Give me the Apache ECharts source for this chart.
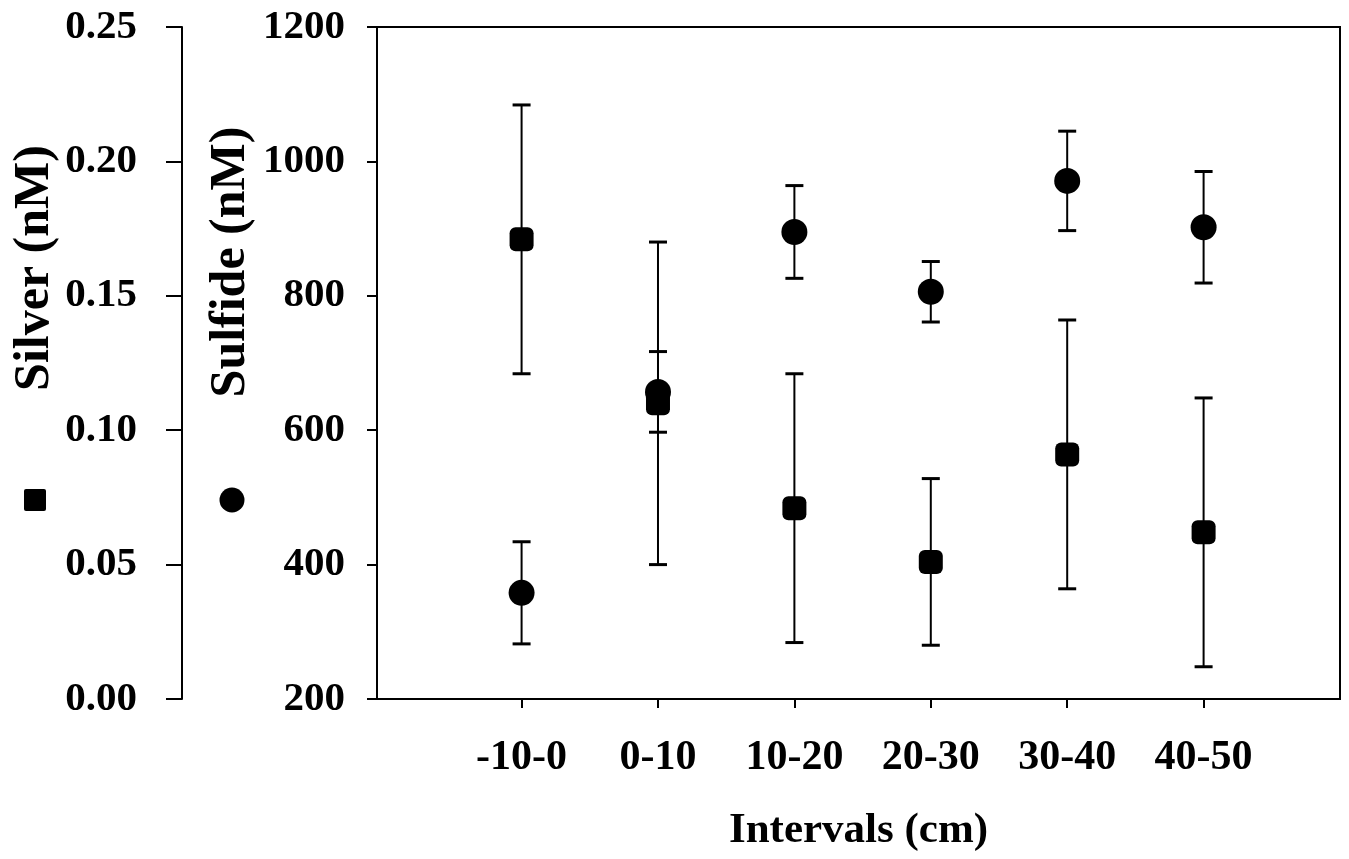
<!DOCTYPE html>
<html>
<head>
<meta charset="utf-8">
<script src="https://cdn.jsdelivr.net/npm/echarts@6/dist/echarts.min.js"></script>
<style>
html, body { margin: 0; padding: 0; background: #fff; }
#chart { width: 1349px; height: 859px; }
</style>
</head>
<body>
<div id="chart"></div>
<script>
// depth intervals and the two measured series (mean and error)
const intervals = ['-10-0', '0-10', '10-20', '20-30', '30-40', '40-50'];
const silver = [0.171, 0.110, 0.071, 0.051, 0.091, 0.062];
const silverErr = [0.050, 0.060, 0.050, 0.031, 0.050, 0.050];
const sulfide = [358, 657, 895, 806, 971, 902];
const sulfideErr = [76, 60, 69, 45, 74, 83];
const xTicks = [0, 1, 2, 3, 4, 5];

const FONT = 'Liberation Serif';
const chart = echarts.init(document.getElementById('chart'));

function errorBar(params, api) {
    const x = api.value(0);
    const top = api.coord([x, api.value(2)]);
    const bot = api.coord([x, api.value(1)]);
    const cap = 9;
    const line = { stroke: '#000', lineWidth: 2 };
    const capStyle = { stroke: '#000', lineWidth: 3 };
    return {
        type: 'group',
        children: [
            { type: 'line', shape: { x1: top[0], y1: top[1], x2: bot[0], y2: bot[1] }, style: line },
            { type: 'line', shape: { x1: top[0] - cap, y1: top[1], x2: top[0] + cap, y2: top[1] }, style: capStyle },
            { type: 'line', shape: { x1: bot[0] - cap, y1: bot[1], x2: bot[0] + cap, y2: bot[1] }, style: capStyle }
        ]
    };
}

const axisLabelStyle = { color: '#000', fontFamily: FONT, fontWeight: 'bold', fontSize: 41 };
const axisLineStyle = { show: true, onZero: false, lineStyle: { color: '#000', width: 2 } };

chart.setOption({
    animation: false,
    backgroundColor: '#fff',
    grid: {
        left: 377, right: 9, top: 27, bottom: 160,
        show: true, borderColor: '#000', borderWidth: 2
    },
    xAxis: {
        type: 'value',
        min: -1.06,
        max: 6,
        name: 'Intervals (cm)',
        nameLocation: 'middle',
        nameGap: 110,
        nameTextStyle: { color: '#000', fontFamily: FONT, fontWeight: 'bold', fontSize: 43 },
        axisLine: axisLineStyle,
        axisTick: { show: true, customValues: xTicks, length: 9, lineStyle: { color: '#000', width: 2 } },
        axisLabel: Object.assign({
            customValues: xTicks,
            margin: 38,
            fontSize: 42,
            formatter: v => intervals[Math.round(v)]
        }, { color: '#000', fontFamily: FONT, fontWeight: 'bold' }),
        splitLine: { show: false }
    },
    yAxis: [
        {
            type: 'value',
            min: 200, max: 1200, interval: 200,
            position: 'left',
            axisLine: axisLineStyle,
            axisTick: { show: true, length: 10, lineStyle: { color: '#000', width: 2 } },
            axisLabel: Object.assign({ margin: 32, formatter: v => String(v) }, axisLabelStyle),
            splitLine: { show: false }
        },
        {
            type: 'value',
            min: 0, max: 0.25, interval: 0.05,
            position: 'left',
            offset: 195,
            axisLine: axisLineStyle,
            axisTick: { show: true, length: 16, lineStyle: { color: '#000', width: 2 } },
            axisLabel: Object.assign({ margin: 45, formatter: v => v.toFixed(2) }, axisLabelStyle),
            splitLine: { show: false }
        }
    ],
    graphic: [
        {
            type: 'text', x: 35, y: 268, rotation: Math.PI / 2,
            style: { text: 'Silver (nM)', font: 'bold 50px "Liberation Serif"', fill: '#000', textAlign: 'center', textVerticalAlign: 'middle' }
        },
        {
            type: 'text', x: 231, y: 262, rotation: Math.PI / 2,
            style: { text: 'Sulfide (nM)', font: 'bold 50px "Liberation Serif"', fill: '#000', textAlign: 'center', textVerticalAlign: 'middle' }
        },
        { type: 'rect', shape: { x: 24, y: 489, width: 22, height: 22, r: 2 }, style: { fill: '#000' } },
        { type: 'circle', shape: { cx: 232, cy: 500, r: 12.5 }, style: { fill: '#000' } }
    ],
    series: [
        {
            name: 'Silver error',
            type: 'custom',
            yAxisIndex: 1,
            renderItem: errorBar,
            data: intervals.map((c, i) => [i, silver[i] - silverErr[i], silver[i] + silverErr[i]]),
            z: 2
        },
        {
            name: 'Sulfide error',
            type: 'custom',
            yAxisIndex: 0,
            renderItem: errorBar,
            data: intervals.map((c, i) => [i, sulfide[i] - sulfideErr[i], sulfide[i] + sulfideErr[i]]),
            z: 2
        },
        {
            name: 'Silver',
            type: 'scatter',
            yAxisIndex: 1,
            symbol: 'roundRect',
            symbolSize: 24,
            itemStyle: { color: '#000', opacity: 1 },
            data: intervals.map((c, i) => [i, silver[i]]),
            z: 3
        },
        {
            name: 'Sulfide',
            type: 'scatter',
            yAxisIndex: 0,
            symbol: 'circle',
            symbolSize: 26,
            itemStyle: { color: '#000', opacity: 1 },
            data: intervals.map((c, i) => [i, sulfide[i]]),
            z: 3
        }
    ]
});
</script>
</body>
</html>
